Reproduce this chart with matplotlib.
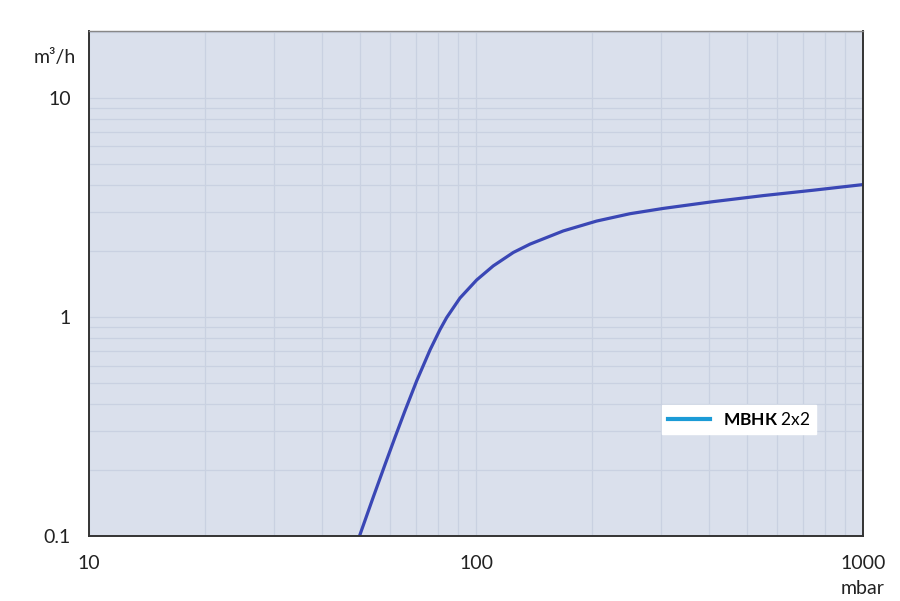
"""Pumping speed curve, MBHK 2x2, log-log."""

import matplotlib
matplotlib.use("Agg")
import matplotlib.pyplot as plt
from matplotlib.lines import Line2D
from matplotlib.ticker import FixedLocator, LogLocator, NullFormatter

plt.rcParams["font.family"] = ["Lato", "DejaVu Sans"]
plt.rcParams["mathtext.fontset"] = "custom"
plt.rcParams["mathtext.rm"] = "Lato"
plt.rcParams["mathtext.bf"] = "Lato:bold"

pressure_mbar = [50, 54.3, 58.2, 61.8, 65.5, 70.3, 76.1, 80.7, 84.0, 90.9,
                 100.4, 110.8, 124.9, 137.9, 168.1, 205, 250, 305, 410, 552,
                 745, 1000]
speed_m3h = [0.1, 0.151, 0.212, 0.283, 0.372, 0.512, 0.708, 0.875, 0.994, 1.22,
             1.475, 1.71, 1.97, 2.15, 2.47, 2.74, 2.96, 3.13, 3.36, 3.58,
             3.79, 4.02]
x_ticks = [10, 100, 1000]
x_tick_labels = ["10", "100", "1000"]
y_ticks = [0.1, 1, 10]
y_tick_labels = ["0.1", "1", "10"]
series_name = "МВНК"
series_suffix = "2x2"

fig = plt.figure(figsize=(9, 6.01), dpi=100)
ax = fig.add_axes([89 / 900, 65 / 601, 774 / 900, 505 / 601])
ax.set_facecolor("#dae0ec")

ax.plot(pressure_mbar, speed_m3h, color="#3a47b5", lw=2.3,
        solid_joinstyle="round")

ax.set_xscale("log")
ax.set_yscale("log")
ax.set_xlim(10, 1000)
ax.set_ylim(0.1, 20.2)

ax.xaxis.set_major_locator(FixedLocator(x_ticks))
ax.set_xticklabels(x_tick_labels)
ax.yaxis.set_major_locator(FixedLocator(y_ticks))
ax.set_yticklabels(y_tick_labels)
ax.xaxis.set_minor_locator(LogLocator(base=10, subs=range(2, 10)))
ax.yaxis.set_minor_locator(LogLocator(base=10, subs=range(2, 10)))
ax.xaxis.set_minor_formatter(NullFormatter())
ax.yaxis.set_minor_formatter(NullFormatter())

ax.grid(which="both", color="#c9d1e1", lw=0.9)
ax.set_axisbelow(True)
ax.tick_params(axis="both", which="both", length=0, labelsize=14, colors="#222222")
ax.tick_params(axis="x", pad=14)
ax.tick_params(axis="y", pad=13)

for side in ["left", "bottom", "right"]:
    ax.spines[side].set_color("#333333")
    ax.spines[side].set_linewidth(1.4)
ax.spines["top"].set_color("#888888")
ax.spines["top"].set_linewidth(1.0)

fig.text(76 / 900, 1 - 58 / 601, "m³/h", ha="right", va="center", fontsize=14, color="#222222")
fig.text(863 / 900, 1 - 589 / 601, "mbar", ha="center", va="center", fontsize=14, color="#222222")

handle = Line2D([], [], color="#1b9bd6", lw=3)
leg = ax.legend([handle], [f"$\\mathbf{{{series_name}}}$ {series_suffix}"],
                loc="upper left", bbox_to_anchor=(573 / 774, 1 - 374 / 505),
                frameon=True, fancybox=False, framealpha=1, edgecolor="white",
                fontsize=12.5, handlelength=2.4, borderpad=0.35, handletextpad=0.75,
                borderaxespad=0)
fig.savefig("out.png", dpi=100)
